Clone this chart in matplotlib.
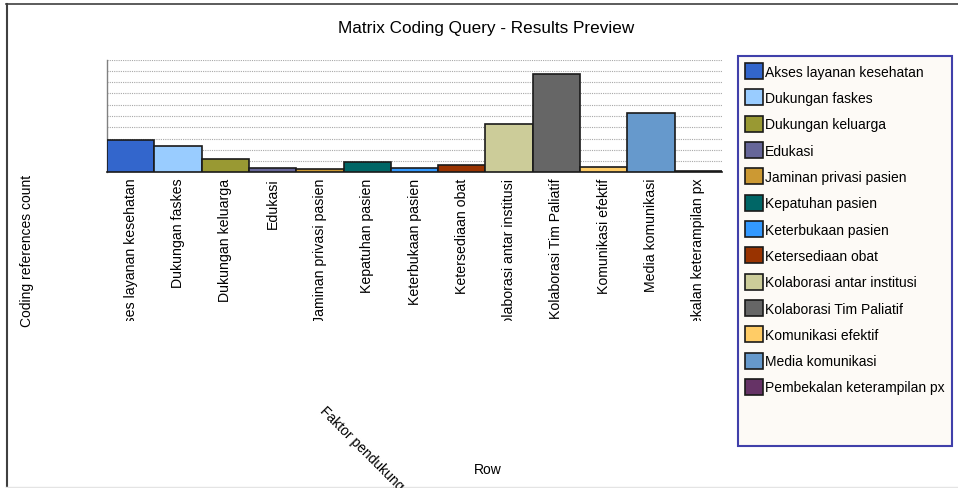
import matplotlib
matplotlib.use("Agg")
import matplotlib.pyplot as plt
from matplotlib.patches import Rectangle
from matplotlib.lines import Line2D
from matplotlib.transforms import Bbox, TransformedBbox

plt.rcParams['font.family'] = ['Liberation Sans', 'DejaVu Sans']

# data (in gridline units)
categories = ["Akses layanan kesehatan", "Dukungan faskes", "Dukungan keluarga",
              "Edukasi", "Jaminan privasi pasien", "Kepatuhan pasien",
              "Keterbukaan pasien", "Ketersediaan obat", "Kolaborasi antar institusi",
              "Kolaborasi Tim Paliatif", "Komunikasi efektif", "Media komunikasi",
              "Pembekalan keterampilan px"]
counts = [2.89, 2.33, 1.2, 0.36, 0.33, 0.93, 0.36, 0.66, 4.3, 8.77, 0.5, 5.24, 0.08]
colors = ["#3366cc", "#99ccff", "#999933", "#666699", "#cc9933", "#006666",
          "#3399ff", "#993300", "#cccc99", "#666666", "#ffcc66", "#6699cc",
          "#663366"]
grid_levels = [1, 2, 3, 4, 5, 6, 7, 8, 9, 10]

W, H = 958, 489
fig = plt.figure(figsize=(W/100, H/100), dpi=100)
fig.patch.set_facecolor("white")

def fx(px):
    return px / W

def fy(py):
    return 1 - py / H

ax = fig.add_axes([fx(107), fy(173.3), fx(722) - fx(107), fy(60.7) - fy(173.3)])
xs = list(range(len(categories)))
bars = ax.bar(xs, counts, width=1.0, color=colors, edgecolor="#1a1a1a",
              linewidth=1.2, zorder=3)
ax.set_xlim(-0.5, len(categories) - 0.5)
ax.set_ylim(0, 10)
ax.set_yticks(grid_levels)
ax.yaxis.grid(True, color="#a8a8a8", linestyle=(0, (1, 1)), linewidth=0.8, zorder=0)
ax.tick_params(axis="y", length=0, labelleft=False)
ax.tick_params(axis="x", length=0, pad=4)
ax.set_xticks(xs)
ax.set_xticklabels(categories, rotation=90, va="top", ha="center", fontsize=10.2)
for s in ["top", "right"]:
    ax.spines[s].set_visible(False)
ax.spines["left"].set_color("#808080")
ax.spines["left"].set_linewidth(1.0)
ax.spines["bottom"].set_color("#1a1a1a")
ax.spines["bottom"].set_linewidth(1.2)

# tick labels are cut off below a fixed band
clip = TransformedBbox(Bbox([[0, fy(322)], [1, fy(173.3)]]), fig.transFigure)
for t in ax.get_xticklabels():
    t.set_clip_box(clip)
    t.set_clip_on(True)

fig.text(fx(486), fy(28), "Matrix Coding Query - Results Preview",
         ha="center", va="center", fontsize=12.3)
fig.text(fx(27), fy(251), "Coding references count", rotation=90,
         ha="center", va="center", fontsize=10)
fig.text(fx(488), fy(470), "Row", ha="center", va="center", fontsize=10)
fig.text(fx(322), fy(409), "Faktor pendukung", rotation=-45, rotation_mode="anchor",
         ha="left", va="center", fontsize=10)

# legend frame
fig.patches.append(Rectangle((fx(738), fy(447)), fx(952) - fx(738), fy(57) - fy(447),
                             transform=fig.transFigure, facecolor="#fdfaf6",
                             edgecolor="#4040aa", linewidth=1.5, zorder=1))
leg = fig.legend(bars, categories, loc="upper left",
                 bbox_to_anchor=(fx(745), fy(64)), frameon=False, fontsize=10,
                 handlelength=1.3, handleheight=1.4, handletextpad=0.15,
                 labelspacing=0.74, borderpad=0, borderaxespad=0)
leg.set_zorder(2)

# outer border
fig.lines.append(Line2D([fx(6.5), fx(6.5)], [fy(5), 0], transform=fig.transFigure,
                        color="#404040", linewidth=1.5))
fig.lines.append(Line2D([fx(6), 1], [fy(5), fy(5)], transform=fig.transFigure,
                        color="#404040", linewidth=1.2))
fig.lines.append(Line2D([fx(6), 1], [fy(488), fy(488)], transform=fig.transFigure,
                        color="#e4e4e4", linewidth=1.0))

fig.savefig("out.png", dpi=100)
